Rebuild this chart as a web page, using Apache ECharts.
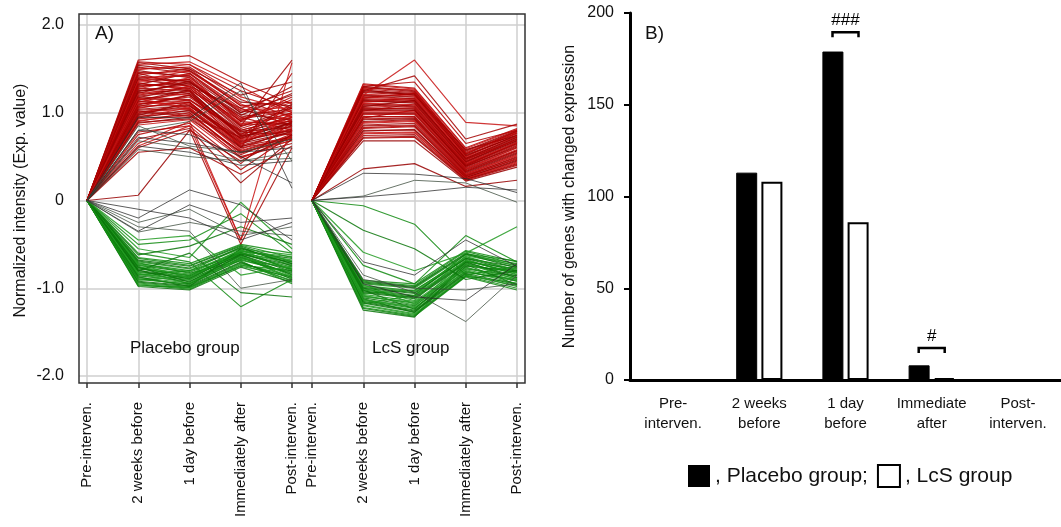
<!DOCTYPE html>
<html>
<head>
<meta charset="utf-8">
<script src="https://cdn.jsdelivr.net/npm/echarts@6/dist/echarts.min.js"></script>
<style>html,body{margin:0;padding:0;background:#fff}#c{width:1061px;height:527px}</style>
</head>
<body>
<div id="c"></div>
<script>
// ---------- data ----------
const timeCats = ['Pre-interven.', '2 weeks before', '1 day before', 'Immediately after', 'Post-interven.'];
const yTickLabels = ['-2.0', '-1.0', '0', '1.0', '2.0'];

const placeboUp = [
  [0,1.60,1.65,1.35,1.10],[0,1.57,1.50,1.20,1.35],[0,1.55,1.58,1.30,1.00],[0,1.52,1.45,1.05,1.25],
  [0,1.50,1.52,1.15,0.95],[0,1.48,1.40,1.00,1.20],[0,1.45,1.47,1.10,0.90],[0,1.42,1.35,0.95,1.05],
  [0,1.40,1.42,0.90,1.15],[0,1.38,1.30,1.05,0.85],[0,1.35,1.38,0.85,1.00],[0,1.33,1.28,0.80,0.95],
  [0,1.30,1.35,0.95,0.80],[0,1.28,1.25,0.75,1.10],[0,1.25,1.32,0.88,0.90],[0,1.23,1.20,0.70,0.85],
  [0,1.20,1.28,0.82,1.00],[0,1.18,1.15,0.78,0.75],[0,1.15,1.22,0.72,0.92],[0,1.13,1.12,0.68,0.80],
  [0,1.10,1.18,0.76,0.88],[0,1.08,1.08,0.65,0.78],[0,1.05,1.15,0.70,0.95],[0,1.03,1.05,0.62,0.72],
  [0,1.00,1.10,0.66,0.85],[0,0.98,1.02,0.60,0.70],[0,0.95,1.06,0.58,0.82],[0,0.93,0.98,0.55,0.68],
  [0,0.90,1.00,0.52,0.76],[0,0.88,0.95,0.50,0.65],[0,0.86,0.92,0.48,0.72],[0,1.45,1.30,0.85,1.60],
  [0,1.12,1.25,0.60,1.45],[0,1.32,1.45,1.00,1.30],[0,1.27,1.40,0.92,1.12],[0,1.17,1.30,0.84,1.05],
  [0,1.07,1.20,0.74,0.98],[0,0.97,1.12,0.64,0.90],[0,1.37,1.48,1.08,0.96],[0,1.22,1.36,0.90,0.86],
  [0,1.58,1.55,1.25,1.05],[0,1.54,1.48,1.12,1.08],[0,1.49,1.55,1.18,1.02],[0,1.46,1.42,1.02,0.98],
  [0,1.43,1.50,1.08,1.12],[0,1.39,1.36,0.98,0.92],[0,1.36,1.44,1.03,1.06],[0,1.31,1.33,0.86,0.88],
  [0,1.29,1.38,0.93,1.02],[0,1.26,1.22,0.79,0.83],[0,1.21,1.30,0.87,0.96],[0,1.19,1.24,0.74,0.79],
  [0,1.16,1.14,0.80,0.94],[0,1.14,1.26,0.73,0.87],[0,1.11,1.10,0.69,0.82],[0,1.09,1.20,0.78,0.91],
  [0,1.06,1.12,0.63,0.77],[0,1.04,1.08,0.71,0.89],[0,1.01,1.04,0.57,0.74],[0,0.99,1.08,0.67,0.81],
  [0,0.96,1.00,0.54,0.71],[0,0.94,1.03,0.61,0.79],[0,0.91,0.97,0.49,0.69],[0,0.89,0.93,0.56,0.73],
  [0,1.34,1.26,0.91,1.18],[0,1.24,1.34,0.97,1.22],[0,1.16,1.05,0.64,1.00],[0,1.02,0.96,0.72,1.08],
  [0,0.78,0.85,0.35,0.75],[0,0.70,0.82,0.20,0.70],[0,0.65,0.90,-0.45,0.80],[0,0.60,0.80,-0.50,0.60],
  [0,0.75,0.88,0.42,0.90],[0,0.06,0.80,0.45,0.75],[0,0.62,0.85,-0.45,1.57],[0,0.55,0.60,0.30,0.62]
];
const placeboMid = [
  [0,0.95,0.94,1.34,0.14],[0,0.80,0.90,1.25,0.45],[0,0.72,0.65,0.55,0.60],[0,0.68,0.60,0.45,0.55],
  [0,0.62,0.55,0.40,0.45],[0,0.58,0.50,0.45,0.48],[0,0.80,0.75,0.50,0.20],[0,0.85,0.62,0.55,0.70],
  [0,-0.35,-0.05,-0.25,-0.20],[0,-0.36,-0.25,-0.35,-0.40],[0,-0.20,0.12,-0.05,-0.45],
  [0,-0.25,-0.10,-0.40,-0.30],[0,-0.10,-0.20,-0.45,-0.25],[0,-0.30,-0.35,-1.00,-0.90]
];
const placeboDown = [
  [0,-0.65,-0.72,-0.50,-0.60],[0,-0.68,-0.75,-0.52,-0.70],[0,-0.70,-0.78,-0.55,-0.62],[0,-0.72,-0.80,-0.53,-0.75],
  [0,-0.74,-0.82,-0.58,-0.66],[0,-0.76,-0.84,-0.56,-0.80],[0,-0.78,-0.85,-0.60,-0.70],[0,-0.80,-0.87,-0.62,-0.85],
  [0,-0.82,-0.88,-0.59,-0.73],[0,-0.84,-0.90,-0.64,-0.88],[0,-0.86,-0.92,-0.66,-0.78],[0,-0.88,-0.94,-0.63,-0.90],
  [0,-0.90,-0.95,-0.68,-0.82],[0,-0.92,-0.97,-0.70,-0.92],[0,-0.94,-0.99,-0.72,-0.86],[0,-0.96,-1.01,-0.74,-0.80],
  [0,-0.98,-1.02,-0.76,-0.93],[0,-0.75,-0.90,-0.57,-0.68],[0,-0.85,-0.80,-0.61,-0.76],[0,-0.79,-0.95,-0.65,-0.84],
  [0,-0.91,-0.86,-0.58,-0.64],[0,-0.71,-0.83,-0.69,-0.95],[0,-0.87,-0.98,-0.55,-0.72],[0,-0.73,-0.88,-0.60,-0.78],
  [0,-0.66,-0.74,-0.51,-0.65],[0,-0.69,-0.77,-0.54,-0.72],[0,-0.73,-0.81,-0.57,-0.69],[0,-0.77,-0.86,-0.59,-0.79],
  [0,-0.81,-0.89,-0.61,-0.74],[0,-0.83,-0.91,-0.63,-0.86],[0,-0.89,-0.96,-0.67,-0.83],[0,-0.93,-0.98,-0.71,-0.89],
  [0,-0.95,-1.00,-0.73,-0.91],[0,-0.97,-0.99,-0.75,-0.87],[0,-0.76,-0.93,-0.62,-0.81],[0,-0.84,-0.94,-0.66,-0.77],
  [0,-0.60,-0.70,-1.21,-0.90],[0,-0.80,-0.60,-1.05,-1.10],[0,-0.55,-0.65,-0.02,-0.55],[0,-0.50,-0.45,-0.15,-0.60],
  [0,-0.62,-0.52,-0.30,-0.50],[0,-0.45,-0.40,-0.85,-0.75]
];

const lcsUp = [
  [0,1.33,1.28,0.60,0.82],[0,1.30,1.25,0.57,0.80],[0,1.28,1.26,0.55,0.78],[0,1.25,1.22,0.53,0.76],
  [0,1.23,1.20,0.50,0.75],[0,1.20,1.18,0.52,0.73],[0,1.18,1.15,0.48,0.72],[0,1.15,1.13,0.46,0.70],
  [0,1.13,1.12,0.45,0.68],[0,1.10,1.08,0.43,0.67],[0,1.08,1.06,0.42,0.65],[0,1.05,1.05,0.40,0.64],
  [0,1.03,1.02,0.38,0.62],[0,1.00,1.00,0.37,0.60],[0,0.98,0.98,0.36,0.58],[0,0.95,0.96,0.34,0.57],
  [0,0.93,0.94,0.33,0.55],[0,0.90,0.92,0.31,0.53],[0,0.88,0.90,0.30,0.52],[0,0.85,0.86,0.28,0.50],
  [0,0.82,0.84,0.27,0.48],[0,0.80,0.80,0.26,0.46],[0,0.77,0.78,0.25,0.44],[0,0.74,0.75,0.24,0.42],
  [0,0.71,0.72,0.23,0.40],[0,0.68,0.68,0.22,0.38],[0,1.12,1.17,0.50,0.77],[0,1.02,1.10,0.44,0.70],
  [0,0.94,1.03,0.40,0.66],[0,1.26,1.20,0.58,0.74],
  [0,1.32,1.27,0.59,0.81],[0,1.29,1.24,0.56,0.79],[0,1.27,1.23,0.54,0.77],[0,1.24,1.21,0.51,0.74],
  [0,1.21,1.19,0.49,0.73],[0,1.19,1.16,0.47,0.71],[0,1.16,1.14,0.47,0.69],[0,1.14,1.11,0.44,0.68],
  [0,1.11,1.09,0.42,0.66],[0,1.09,1.07,0.41,0.65],[0,1.06,1.04,0.39,0.63],[0,1.04,1.03,0.39,0.61],
  [0,1.01,1.01,0.36,0.60],[0,0.99,0.99,0.35,0.57],[0,0.96,0.95,0.33,0.56],[0,0.92,0.93,0.32,0.54],
  [0,0.89,0.91,0.30,0.51],[0,0.86,0.88,0.29,0.49],[0,0.83,0.85,0.28,0.47],[0,0.79,0.81,0.26,0.45],
  [0,0.76,0.77,0.25,0.43],[0,0.72,0.73,0.24,0.41],[0,1.17,1.22,0.53,0.79],[0,1.07,1.14,0.48,0.72],
  [0,1.20,1.60,0.89,0.85],[0,1.25,1.42,0.70,0.87],[0,1.30,1.35,0.65,0.80],[0,0.36,0.42,0.16,0.23]
];
const lcsMid = [
  [0,0.31,0.30,0.25,0.09],[0,0.05,0.23,0.20,-0.02],[0,0.04,0.09,0.15,0.12],
  [0,-0.85,-1.05,-1.38,-0.85],[0,-0.95,-1.10,-1.14,-0.72],[0,-0.90,-1.00,-1.02,-0.95],[0,-0.70,-0.85,-0.45,-0.75]
];
const lcsDown = [
  [0,-0.91,-0.95,-0.57,-0.70],[0,-0.93,-0.98,-0.60,-0.75],[0,-0.95,-1.00,-0.62,-0.72],[0,-0.97,-1.03,-0.64,-0.80],
  [0,-0.99,-1.05,-0.66,-0.76],[0,-1.01,-1.08,-0.68,-0.84],[0,-1.03,-1.10,-0.70,-0.78],[0,-1.05,-1.12,-0.72,-0.88],
  [0,-1.07,-1.15,-0.74,-0.82],[0,-1.09,-1.17,-0.76,-0.92],[0,-1.11,-1.20,-0.78,-0.86],[0,-1.13,-1.22,-0.80,-0.95],
  [0,-1.15,-1.25,-0.82,-0.90],[0,-1.17,-1.27,-0.84,-0.98],[0,-1.20,-1.30,-0.86,-0.94],[0,-1.23,-1.32,-0.87,-1.02],
  [0,-1.25,-1.33,-0.70,-0.88],[0,-1.00,-1.14,-0.63,-0.74],[0,-1.06,-1.02,-0.67,-0.85],[0,-1.12,-1.28,-0.75,-0.80],
  [0,-0.96,-1.18,-0.79,-0.91],[0,-1.18,-1.08,-0.61,-0.69],[0,-1.02,-1.24,-0.73,-0.96],[0,-1.08,-1.19,-0.69,-0.83],
  [0,-0.92,-0.97,-0.58,-0.73],[0,-0.94,-0.99,-0.61,-0.77],[0,-0.98,-1.04,-0.65,-0.79],[0,-1.02,-1.09,-0.69,-0.82],
  [0,-1.04,-1.11,-0.71,-0.86],[0,-1.10,-1.16,-0.77,-0.89],[0,-1.14,-1.23,-0.81,-0.92],[0,-1.16,-1.26,-0.83,-0.96],
  [0,-1.19,-1.29,-0.85,-0.97],[0,-1.22,-1.31,-0.86,-1.00],[0,-1.00,-1.06,-0.66,-0.81],[0,-1.13,-1.21,-0.72,-0.90],
  [0,-0.06,-0.27,-0.85,-0.75],[0,-0.34,-0.55,-0.90,-0.80],[0,-0.59,-0.80,-0.60,-0.30],[0,-0.74,-0.95,-0.40,-0.70]
];

const barCats = ['Pre-\ninterven.', '2 weeks\nbefore', '1 day\nbefore', 'Immediate\nafter', 'Post-\ninterven.'];
const placeboCounts = [0, 113, 179, 8, 0];
const lcsCounts = [0, 108, 86, 1, 0];
// significance marks: [category index, bracket value, label]
const sigMarks = [[2, 189.5, '###'], [3, 17.5, '#']];

// ---------- chart ----------
const FONT = 'Liberation Sans, Arial, sans-serif';
const chart = echarts.init(document.getElementById('c'), null, {renderer: 'canvas'});

function lines(rows, axisIdx, colors, width, opacity, z) {
  return rows.map((row, i) => ({
    type: 'line', xAxisIndex: axisIdx, yAxisIndex: axisIdx, data: row,
    symbol: 'none', silent: true, animation: false, z: z,
    lineStyle: {color: colors[i % colors.length], width: width, opacity: opacity}
  }));
}
const RED = ['#b00000', '#960000', '#c81414', '#a40404'];
const GREEN = ['#118a11', '#0a760a', '#229a22'];
const DARK = ['#2a2a2a', '#3a4a3a'];

const lineX = (idx) => ({
  type: 'category', gridIndex: idx, data: timeCats, boundaryGap: false,
  axisLine: {show: false, onZero: false},
  axisTick: {show: true, length: 5, lineStyle: {color: '#333', width: 1.5}},
  axisLabel: {rotate: 90, margin: 19, fontSize: 15, color: '#111', fontFamily: FONT},
  splitLine: {show: true, lineStyle: {color: '#cfcfcf', width: 1.5}}
});
const lineY = (idx) => ({type: 'value', gridIndex: idx, min: -2.08, max: 2.125, show: false, splitLine: {show: false}});

const option = {
  backgroundColor: '#fff',
  animation: false,
  textStyle: {fontFamily: FONT},
  grid: [
    {left: 79, top: 25, width: 446, height: 351},
    {left: 87, top: 14, width: 205, height: 369},
    {left: 312, top: 14, width: 205, height: 369},
    {left: 630, top: 13, width: 440, height: 367}
  ],
  xAxis: [
    {type: 'value', gridIndex: 0, min: 0, max: 1, show: false},
    lineX(1),
    lineX(2),
    {
      type: 'category', gridIndex: 3, data: barCats,
      axisLine: {lineStyle: {color: '#000', width: 3}},
      axisTick: {show: false},
      axisLabel: {margin: 14, fontSize: 15, lineHeight: 20, color: '#111', fontFamily: FONT, interval: 0}
    }
  ],
  yAxis: [
    {
      type: 'value', gridIndex: 0, min: -2, max: 2, interval: 1,
      axisLine: {show: false}, axisTick: {show: false},
      axisLabel: {margin: 15, fontSize: 16, color: '#111', fontFamily: FONT,
        formatter: v => yTickLabels[Math.round(v) + 2]},
      splitLine: {lineStyle: {color: '#cfcfcf', width: 1.5}},
      name: 'Normalized intensity (Exp. value)', nameLocation: 'middle', nameGap: 50,
      nameTextStyle: {fontSize: 16, color: '#111', fontFamily: FONT}
    },
    lineY(1),
    lineY(2),
    {
      type: 'value', gridIndex: 3, min: 0, max: 200, interval: 50,
      axisLine: {show: true, lineStyle: {color: '#000', width: 3}},
      axisTick: {show: true, length: 6, lineStyle: {color: '#000', width: 2}},
      axisLabel: {margin: 16, fontSize: 16, color: '#111', fontFamily: FONT},
      splitLine: {show: false},
      name: 'Number of genes with changed expression', nameLocation: 'middle', nameGap: 52,
      nameTextStyle: {fontSize: 16, color: '#111', fontFamily: FONT}
    }
  ],
  legend: {
    left: 688, top: 464, padding: 0, itemWidth: 22, itemHeight: 22, itemGap: 9, icon: 'rect',
    selectedMode: false,
    textStyle: {fontSize: 21, color: '#111', fontFamily: FONT},
    data: [
      {name: 'Placebo group', itemStyle: {color: '#000', borderColor: '#000', borderWidth: 0}},
      {name: 'LcS group', itemStyle: {color: '#fff', borderColor: '#000', borderWidth: 2}}
    ],
    formatter: n => ', ' + n + (n === 'Placebo group' ? ';' : '')
  },
  graphic: [
    {type: 'rect', shape: {x: 79, y: 14, width: 446, height: 369}, silent: true, z: 100,
      style: {fill: 'none', stroke: '#333', lineWidth: 1.5}},
    {type: 'text', left: 95, top: 24, z: 101, style: {text: 'A)', fontSize: 19, fill: '#111', fontFamily: FONT}},
    {type: 'text', left: 130, top: 340, z: 101, style: {text: 'Placebo group', fontSize: 17, fill: '#111', fontFamily: FONT}},
    {type: 'text', left: 372, top: 340, z: 101, style: {text: 'LcS group', fontSize: 17, fill: '#111', fontFamily: FONT}},
    {type: 'text', left: 645, top: 24, z: 101, style: {text: 'B)', fontSize: 19, fill: '#111', fontFamily: FONT}}
  ],
  series: [].concat(
    lines(placeboDown, 1, GREEN, 1.15, 0.85, 2),
    lines(placeboUp, 1, RED, 1.15, 0.85, 3),
    lines(placeboMid, 1, DARK, 0.9, 0.85, 4),
    lines(lcsDown, 2, GREEN, 1.15, 0.85, 2),
    lines(lcsUp, 2, RED, 1.15, 0.85, 3),
    lines(lcsMid, 2, DARK, 0.9, 0.85, 4),
    [
      {name: 'Placebo group', type: 'bar', xAxisIndex: 3, yAxisIndex: 3, data: placeboCounts,
        barWidth: 21, barGap: '20%', silent: true,
        itemStyle: {color: '#000', borderColor: '#000', borderWidth: 1}},
      {name: 'LcS group', type: 'bar', xAxisIndex: 3, yAxisIndex: 3, data: lcsCounts,
        barWidth: 21, barGap: '20%', silent: true,
        itemStyle: {color: '#fff', borderColor: '#000', borderWidth: 2}},
      {type: 'custom', xAxisIndex: 3, yAxisIndex: 3, data: sigMarks, silent: true, z: 10,
        renderItem: function (params, api) {
          const c = api.coord([api.value(0), api.value(1)]);
          const h = 13;
          return {type: 'group', children: [
            {type: 'polyline', shape: {points: [[c[0] - h, c[1] + 5], [c[0] - h, c[1]], [c[0] + h, c[1]], [c[0] + h, c[1] + 5]]},
              style: {stroke: '#000', lineWidth: 2.5, fill: 'none'}},
            {type: 'text', x: c[0], y: c[1] - 12,
              style: {text: sigMarks[params.dataIndex][2], fontSize: 17, fill: '#000', fontFamily: FONT,
                textAlign: 'center', textVerticalAlign: 'middle'}}
          ]};
        }}
    ]
  )
};
chart.setOption(option);
</script>
</body>
</html>
